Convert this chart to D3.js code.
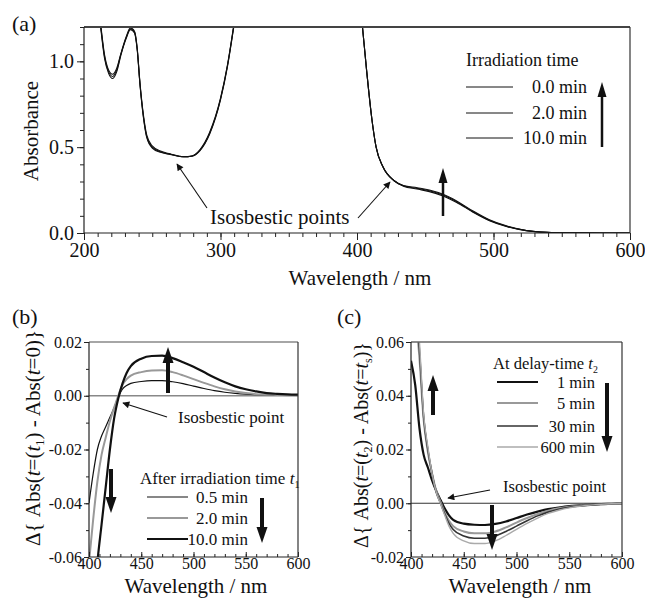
<!DOCTYPE html>
<html><head><meta charset="utf-8">
<script src="https://cdn.jsdelivr.net/npm/d3@7"></script>
<style>body{margin:0;background:#fff} svg text{font-family:'Liberation Serif','Times New Roman',serif !important;}</style>
</head><body>
<script>
// ---------- Panel (a) data ----------
const wlA = [210,212,215,218,221,224,227,231,234,237,239,241,243.5,246,250,256,263,273,279,285,292,300,305,310,315,
             400,404,407,411,414,419,427,434,444,453,463,473,485,497,510,524,539,558,580,600];
const absA_0 = [1.34,1.21,1.02,0.93,0.900,0.94,1.035,1.135,1.185,1.165,1.065,0.865,0.675,0.555,0.495,0.470,0.458,0.444,0.449,0.486,0.585,0.785,0.975,1.225,1.5,
             1.5,1.2,0.95,0.657,0.50,0.386,0.306,0.273,0.256,0.241,0.216,0.178,0.121,0.072,0.037,0.014,0.004,0.001,0,0];
const absA_2 = [1.35,1.22,1.03,0.94,0.912,0.95,1.04,1.14,1.19,1.17,1.07,0.87,0.68,0.56,0.500,0.473,0.459,0.444,0.448,0.483,0.58,0.78,0.97,1.22,1.5,
             1.5,1.2,0.95,0.657,0.50,0.386,0.306,0.275,0.260,0.246,0.221,0.182,0.124,0.074,0.038,0.014,0.004,0.001,0,0];
const absA_10 = [1.36,1.23,1.04,0.95,0.925,0.96,1.045,1.145,1.195,1.175,1.075,0.875,0.69,0.57,0.507,0.477,0.461,0.444,0.447,0.480,0.575,0.775,0.965,1.215,1.5,
             1.5,1.2,0.95,0.657,0.50,0.386,0.306,0.277,0.264,0.251,0.226,0.187,0.128,0.077,0.040,0.015,0.004,0.001,0,0];
const legendA = ["0.0 min","2.0 min","10.0 min"];
const xTicksA = [200,300,400,500,600];
const yTicksA = [0,0.5,1.0];

// ---------- Panels (b),(c) data ----------
const wlBC = [400,404,408,412,416,420,424,428,432,436,440,450,460,470,480,490,500,510,520,530,540,550,560,570,580,590,600];
const dB_05 = [-0.040,-0.029,-0.020,-0.0150,-0.0115,-0.0080,-0.0045,-0.0005,0.0025,0.0038,0.0046,0.0053,0.0056,0.0056,0.0052,0.0045,0.0036,0.0027,0.0019,0.0013,0.0009,0.0006,0.0004,0.0003,0.0002,0.0001,0.0001];
const dB_2 = [-0.062,-0.046,-0.032,-0.022,-0.0155,-0.0095,-0.0045,0.0000,0.0040,0.0062,0.0075,0.0088,0.0094,0.0095,0.0088,0.0076,0.0062,0.0048,0.0035,0.0024,0.0016,0.0010,0.0006,0.0004,0.0003,0.0002,0.0001];
const dB_10 = [-0.10,-0.080,-0.062,-0.048,-0.034,-0.020,-0.0085,-0.0010,0.0045,0.0085,0.0110,0.0138,0.0148,0.0149,0.0140,0.0125,0.0108,0.0088,0.0068,0.0050,0.0035,0.0024,0.0016,0.0010,0.0007,0.0005,0.0004];
const legendB = ["0.5 min","2.0 min","10.0 min"];

const dC_1 = [0.053,0.044,0.028,0.018,0.0133,0.0085,0.0045,0.0012,-0.0020,-0.0045,-0.0062,-0.0076,-0.0080,-0.0081,-0.0077,-0.0068,-0.0055,-0.0042,-0.0031,-0.0022,-0.0016,-0.0011,-0.0008,-0.0005,-0.0003,-0.0002,-0.0001];
const dC_5 = [0.09,0.072,0.054,0.031,0.019,0.011,0.0045,0.0005,-0.0035,-0.0065,-0.0085,-0.0105,-0.0112,-0.0112,-0.0105,-0.0090,-0.0072,-0.0055,-0.0040,-0.0028,-0.0019,-0.0013,-0.0009,-0.0006,-0.0004,-0.0002,-0.0001];
const dC_30 = [0.095,0.076,0.057,0.032,0.020,0.011,0.004,0.0000,-0.0040,-0.0075,-0.0098,-0.0122,-0.0130,-0.0130,-0.0122,-0.0105,-0.0085,-0.0065,-0.0047,-0.0033,-0.0022,-0.0015,-0.0010,-0.0007,-0.0004,-0.0002,-0.0001];
const dC_600 = [0.10,0.080,0.060,0.033,0.021,0.011,0.004,-0.0002,-0.0045,-0.0085,-0.0112,-0.0140,-0.0150,-0.0150,-0.0140,-0.0120,-0.0097,-0.0075,-0.0055,-0.0038,-0.0026,-0.0017,-0.0011,-0.0007,-0.0004,-0.0002,-0.0001];
const legendC = ["1 min","5 min","30 min","600 min"];
const xTicksBC = [400,450,500,550,600];
const yTicksB = [-0.06,-0.04,-0.02,0.00,0.02];
const yTicksC = [-0.02,0.00,0.02,0.04,0.06];

// ---------- drawing ----------
const FONT = "'Liberation Serif','Times New Roman',serif";
const svg = d3.select("body").append("svg").attr("width",645).attr("height",598)
  .attr("font-family",FONT);

const defs = svg.append("defs");
function clip(id, x0, y0, w, h){
  defs.append("clipPath").attr("id",id).append("rect").attr("x",x0).attr("y",y0).attr("width",w).attr("height",h);
}
defs.append("marker").attr("id","ah").attr("viewBox","0 0 10 10").attr("refX",9).attr("refY",5)
  .attr("markerWidth",9).attr("markerHeight",7).attr("markerUnits","userSpaceOnUse").attr("orient","auto")
  .append("path").attr("d","M0,0 L10,5 L0,10 Z").attr("fill","#111");

function bigArrow(g, x, yTail, yTip, w, hw, hl){
  const dir = yTip < yTail ? -1 : 1;
  const base = yTip - dir*hl;
  g.append("line").attr("x1",x).attr("x2",x).attr("y1",yTail).attr("y2",base)
    .attr("stroke","#111").attr("stroke-width",w);
  g.append("path").attr("d",`M${x-hw/2},${base} L${x+hw/2},${base} L${x},${yTip} Z`).attr("fill","#111");
}
function thinArrow(g, x1, y1, x2, y2){
  g.append("line").attr("x1",x1).attr("y1",y1).attr("x2",x2).attr("y2",y2)
    .attr("stroke","#111").attr("stroke-width",1.1).attr("marker-end","url(#ah)");
}

function axes(g, x, y, o){
  const [x0,x1] = x.range(), [yb,yt] = y.range();
  g.append("g").attr("transform",`translate(0,${yb})`)
    .call(d3.axisBottom(x).tickValues(o.xMinor).tickSize(o.xMinorSize).tickFormat(""))
    .call(s=>s.select(".domain").remove());
  g.append("g").attr("transform",`translate(0,${yb})`)
    .call(d3.axisBottom(x).tickValues(o.xTicks).tickSize(o.xMajorSize).tickPadding(o.xPad).tickFormat(d=>String(d)))
    .call(s=>s.attr("font-family",FONT).attr("font-size",o.tickFont))
    .call(s=>s.select(".domain").remove())
    .call(s=>s.selectAll("text").attr("fill","#111"));
  g.append("g").attr("transform",`translate(${x0},0)`)
    .call(d3.axisLeft(y).tickValues(o.yMinor).tickSize(o.yMinorSize).tickFormat(""))
    .call(s=>s.select(".domain").remove());
  g.append("g").attr("transform",`translate(${x0},0)`)
    .call(d3.axisLeft(y).tickValues(o.yTicks).tickSize(o.yMajorSize).tickPadding(o.yPad).tickFormat(o.yFmt))
    .call(s=>s.attr("font-family",FONT).attr("font-size",o.tickFont))
    .call(s=>s.select(".domain").remove())
    .call(s=>s.selectAll("text").attr("fill","#111"));
  g.selectAll(".tick line").attr("stroke","#222");
  g.append("line").attr("x1",x0).attr("x2",x1).attr("y1",yt).attr("y2",yt).attr("stroke",o.topColor).attr("stroke-width",o.topW);
  g.append("line").attr("x1",x1).attr("x2",x1).attr("y1",yt).attr("y2",yb).attr("stroke","#333").attr("stroke-width",1.2);
  g.append("line").attr("x1",x0).attr("x2",x1).attr("y1",yb).attr("y2",yb).attr("stroke","#222").attr("stroke-width",1.2);
  g.append("line").attr("x1",x0).attr("x2",x0).attr("y1",yt).attr("y2",yb).attr("stroke","#222").attr("stroke-width",1.2);
}

function addParts(t, parts){
  parts.forEach(p=>{
    const s = t.append("tspan").text(p.s);
    if(p.i) s.attr("font-style","italic");
    if(p.sub){ s.attr("font-size","60%").attr("dy",4); }
    if(p.up) s.attr("dy",-4);
  });
}
function rotLabel(cx, cy, parts, size){
  const t = svg.append("text").attr("transform",`translate(${cx},${cy}) rotate(-90)`)
    .attr("text-anchor","middle").attr("font-size",size).attr("fill","#111");
  addParts(t, parts);
}
function text(x,y,s,size,anchor){
  return svg.append("text").attr("x",x).attr("y",y).attr("font-size",size).attr("fill","#111")
    .attr("text-anchor",anchor||"start").text(s);
}

// ======= Panel (a) =======
const xA = d3.scaleLinear().domain([200,600]).range([84,630]);
const yA = d3.scaleLinear().domain([0,1.2]).range([233,27]);
const gA = svg.append("g");
clip("cA",84,27,546,206);
const lineA = d3.line().x((d,i)=>xA(wlA[i])).y(d=>yA(d)).curve(d3.curveMonotoneX);
const gAc = gA.append("g").attr("clip-path","url(#cA)");
[absA_0,absA_2,absA_10].forEach(s=>{
  gAc.append("path").attr("d",lineA(s)).attr("fill","none").attr("stroke","#111").attr("stroke-width",1.1);
});
axes(gA, xA, yA, {xTicks:xTicksA, xMinor:d3.range(200,601,10), xMinorSize:4, xMajorSize:7, xPad:3,
  yTicks:yTicksA, yMinor:d3.range(0,12.1,1).map(v=>v/10), yMinorSize:4, yMajorSize:7, yPad:3,
  yFmt:d=>d.toFixed(1), tickFont:20, topColor:"#444", topW:2});
text(12,31,"(a)",22);
rotLabel(38,131,[{s:"Absorbance"}],21);
text(360,285,"Wavelength / nm",21,"middle");
text(466,66,"Irradiation time",18);
legendA.forEach((lab,i)=>{
  const yy = [87,113,138][i];
  svg.append("line").attr("x1",466).attr("x2",513).attr("y1",yy).attr("y2",yy).attr("stroke","#111").attr("stroke-width",1);
  text(587,yy+6,lab,18,"end");
});
bigArrow(svg,602,147,82,2.5,9,15);
bigArrow(svg,443,216,168,2.5,9,15);
text(210,224,"Isosbestic points",21);
thinArrow(svg,207,208,177,164);
thinArrow(svg,358,218,390,182);

// ======= Panel (b) =======
const xB = d3.scaleLinear().domain([400,600]).range([89,298]);
const yB = d3.scaleLinear().domain([-0.06,0.02]).range([557,342]);
const gB = svg.append("g");
clip("cB",89,342,209,215);
gB.append("line").attr("x1",89).attr("x2",298).attr("y1",yB(0)).attr("y2",yB(0)).attr("stroke","#888").attr("stroke-width",1.5);
const lineB = d3.line().x((d,i)=>xB(wlBC[i])).y(d=>yB(d)).curve(d3.curveMonotoneX);
const gBc = gB.append("g").attr("clip-path","url(#cB)");
const stB = [{s:dB_05,c:"#111",w:1.2},{s:dB_2,c:"#999",w:2},{s:dB_10,c:"#111",w:2.2}];
stB.forEach(o=>gBc.append("path").attr("d",lineB(o.s)).attr("fill","none").attr("stroke",o.c).attr("stroke-width",o.w));
axes(gB, xB, yB, {xTicks:xTicksBC, xMinor:d3.range(400,601,10), xMinorSize:-3, xMajorSize:-5, xPad:1,
  yTicks:yTicksB, yMinor:d3.range(-6,2.1,1).map(v=>v/100), yMinorSize:3, yMajorSize:5, yPad:2,
  yFmt:d=>(Math.abs(d)<1e-9?0:d).toFixed(2), tickFont:16, topColor:"#888", topW:1.5});
text(12,324,"(b)",22);
rotLabel(40,438,[{s:"Δ{ Abs("},{s:"t",i:1},{s:"=("},{s:"t",i:1},{s:"1",sub:1},{s:") - Abs(",up:1},{s:"t",i:1},{s:"=0)}"}],21);
text(196,593,"Wavelength / nm",21,"middle");
const hb = text(140,484,"",17); addParts(hb,[{s:"After irradiation time "},{s:"t",i:1},{s:"1",sub:1}]);
legendB.forEach((lab,i)=>{
  const yy = [497,518,539][i];
  svg.append("line").attr("x1",147).attr("x2",188).attr("y1",yy).attr("y2",yy).attr("stroke",stB[i].c).attr("stroke-width",stB[i].w);
  text(248,yy+6,lab,17,"end");
});
bigArrow(svg,168,393,347,4,11,16);
bigArrow(svg,111,469,513,4,11,16);
bigArrow(svg,262,498,543,4,11,16);
text(178,423,"Isosbestic point",17);
thinArrow(svg,167,417,123,403);

// ======= Panel (c) =======
const xC = d3.scaleLinear().domain([400,600]).range([411,622]);
const yC = d3.scaleLinear().domain([-0.02,0.06]).range([557,342]);
const gC = svg.append("g");
clip("cC",411,342,211,215);
gC.append("line").attr("x1",411).attr("x2",622).attr("y1",yC(0)).attr("y2",yC(0)).attr("stroke","#333").attr("stroke-width",1.2);
const lineC = d3.line().x((d,i)=>xC(wlBC[i])).y(d=>yC(d)).curve(d3.curveMonotoneX);
const gCc = gC.append("g").attr("clip-path","url(#cC)");
const stC = [{s:dC_1,c:"#111",w:2.2},{s:dC_5,c:"#999",w:2},{s:dC_30,c:"#333",w:1.6},{s:dC_600,c:"#aaa",w:1.4}];
stC.forEach(o=>gCc.append("path").attr("d",lineC(o.s)).attr("fill","none").attr("stroke",o.c).attr("stroke-width",o.w));
axes(gC, xC, yC, {xTicks:xTicksBC, xMinor:d3.range(400,601,10), xMinorSize:-3, xMajorSize:-5, xPad:1,
  yTicks:yTicksC, yMinor:d3.range(-2,6.1,1).map(v=>v/100), yMinorSize:3, yMajorSize:5, yPad:2,
  yFmt:d=>(Math.abs(d)<1e-9?0:d).toFixed(2), tickFont:16, topColor:"#666", topW:1.5});
text(337,324,"(c)",22);
rotLabel(368,445,[{s:"Δ{ Abs("},{s:"t",i:1},{s:"=("},{s:"t",i:1},{s:"2",sub:1},{s:") - Abs(",up:1},{s:"t",i:1},{s:"="},{s:"t",i:1},{s:"s",sub:1},{s:")}",up:1}],20);
text(520,593,"Wavelength / nm",21,"middle");
const hc = text(493,369,"",16.5); addParts(hc,[{s:"At delay-time "},{s:"t",i:1},{s:"2",sub:1}]);
legendC.forEach((lab,i)=>{
  const yy = [382,403,426,447][i];
  svg.append("line").attr("x1",497).attr("x2",538).attr("y1",yy).attr("y2",yy).attr("stroke",stC[i].c).attr("stroke-width",stC[i].w);
  text(595,yy+6,lab,16.5,"end");
});
bigArrow(svg,433,415,375,4,11,16);
bigArrow(svg,607,383,452,4,11,16);
bigArrow(svg,492,505,550,4,11,16);
text(503,492,"Isosbestic point",16.5);
thinArrow(svg,490,490,448,498);
</script>
</body></html>
